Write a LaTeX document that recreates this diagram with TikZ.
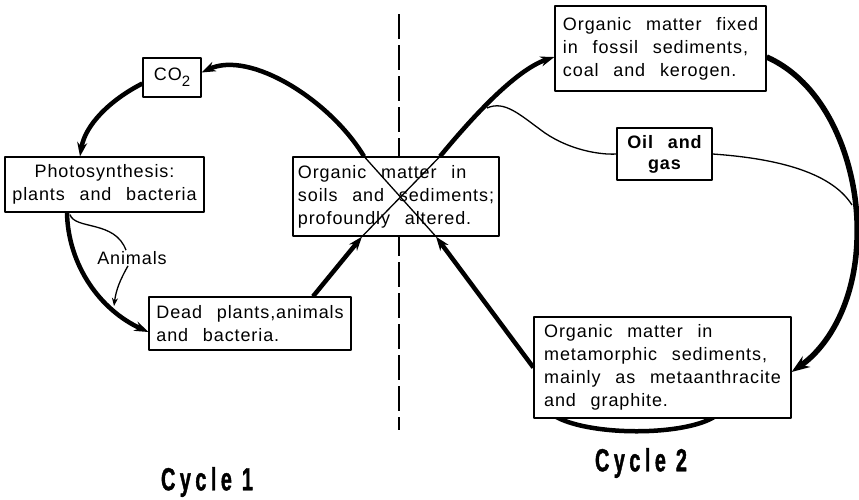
\documentclass[tikz,border=0pt]{standalone}
\usepackage{fontspec}
\setmainfont{Liberation Sans}[LetterSpace=5,WordSpace=2.5]
\newfontfamily\cyclefont{Liberation Sans}[FakeStretch=0.62,LetterSpace=14,
  BoldFeatures={FakeBold=1.2}]
\usetikzlibrary{arrows.meta}

\begin{document}
\begin{tikzpicture}[x=1pt,y=-1pt,>={Stealth[length=14pt,width=10pt]},
                    line join=round]
  \tikzstyle{every node}=[font=\fontsize{18}{23}\selectfont]
  \tikzstyle{box}=[draw=black,fill=white,line width=1.2pt]
  \tikzstyle{flow}=[->,line width=4.5pt]
  \tikzstyle{thin}=[line width=1.3pt]

  \useasboundingbox (0,0) rectangle (859,499);

  % divider between the two cycles, and the loop passing under the last box
  \coordinate (DT) at (399,14);
  \coordinate (DB) at (399,430);
  \draw[line width=2pt,dash pattern=on 25pt off 6pt] (DT) -- (DB);
  \coordinate (AL) at (543,405);
  \coordinate (AR) at (725,405);
  \draw[line width=4.5pt] (AL) .. controls (560,440) and (715,440) .. (AR);

  \node[box,minimum width=58pt,minimum height=39pt,inner sep=0pt] (CO) at (172,77.5)
       {CO\raisebox{-.6ex}{\fontsize{15}{15}\selectfont 2}};
  \node[box,align=center,minimum width=199pt,minimum height=55pt] (PH) at (104.5,184.5)
       {Photosynthesis:\\plants and bacteria};
  \node[box,align=left,minimum width=202pt,minimum height=53pt] (DP) at (250,323.5)
       {Dead plants,animals\\and bacteria.};
  \node[box,align=left,minimum width=206pt,minimum height=79pt,inner xsep=4pt] (OM) at (396,196.5)
       {Organic matter in\\soils and sediments;\\profoundly altered.};
  \node[box,align=left,minimum width=211pt,minimum height=85pt] (FS) at (660.5,48.5)
       {Organic matter fixed\\in fossil sediments,\\coal and kerogen.};
  \node[box,align=center,minimum width=95pt,minimum height=52pt,
        font=\fontsize{18}{21}\selectfont\bfseries] (OG) at (664.5,154) {Oil and\\gas};
  \node[box,align=left,minimum width=257pt,minimum height=101pt] (MS) at (662.5,367.5)
       {Organic matter in\\metamorphic sediments,\\mainly as metaanthracite\\and graphite.};
  \node[inner sep=1pt] (AN) at (132,258) {Animals};

  \node (C1) at (207,482) {\cyclefont\bfseries\fontsize{32}{34}\selectfont Cycle 1};
  \node (C2) at (641,463) {\cyclefont\bfseries\fontsize{32}{34}\selectfont Cycle 2};

  % ends of the crossing inside the middle box
  \coordinate (XA) at ([xshift=-32pt]OM.north);
  \coordinate (XB) at ([xshift=44pt]OM.north);
  \coordinate (XC) at ([xshift=-34pt]OM.south);
  \coordinate (XD) at ([xshift=40pt]OM.south);

  % cycle 1
  \draw[flow] (XA) .. controls (330,100) and (250,50) .. ([yshift=5pt]CO.east);
  \draw[flow] ([yshift=-6pt]CO.west) .. controls (110,100) and (85,125) .. ([xshift=-24.5pt]PH.north);
  \draw[flow] ([xshift=-37.5pt]PH.south) .. controls (68,265) and (100,310) .. ([yshift=-8.5pt]DP.west);
  \draw[flow] ([xshift=63pt]DP.north) -- (XC);

  % animals feeding on the plants
  \coordinate (FD) at (114,306);
  \draw[thin] ([xshift=-34.5pt,yshift=-2pt]PH.south) .. controls (75,230) and (115,220) .. ([xshift=-6pt]AN.north);
  \draw[thin,-{Stealth[length=8pt,width=6pt]}] ([xshift=-4pt]AN.south) .. controls (120,280) and (116,290) .. (FD);

  % cycle 2
  \draw[flow] (XB) .. controls (470,120) and (515,70) .. ([yshift=-8.5pt]FS.west);
  \draw[flow,line width=5.5pt,-{Stealth[length=18pt,width=13pt]}] ([yshift=-8.5pt]FS.east)
        .. controls (830,85) and (860,170) .. (857,240)
        .. controls (855,300) and (830,345) .. ([yshift=-4.5pt]MS.east);
  \draw[flow] (MS.west) -- (XD);
  \draw[thin] (XA) -- (XD);
  \draw[thin] (XC) -- (XB);

  % oil and gas branch
  \coordinate (BR) at (487,108);
  \coordinate (MG) at (852,205);
  \draw[thin] (BR) .. controls (505,100) and (520,115) .. (545,133)
        .. controls (570,150) and (600,155) .. (OG.west);
  \draw[thin] (OG.east) .. controls (770,158) and (830,170) .. (MG);
\end{tikzpicture}
\end{document}
